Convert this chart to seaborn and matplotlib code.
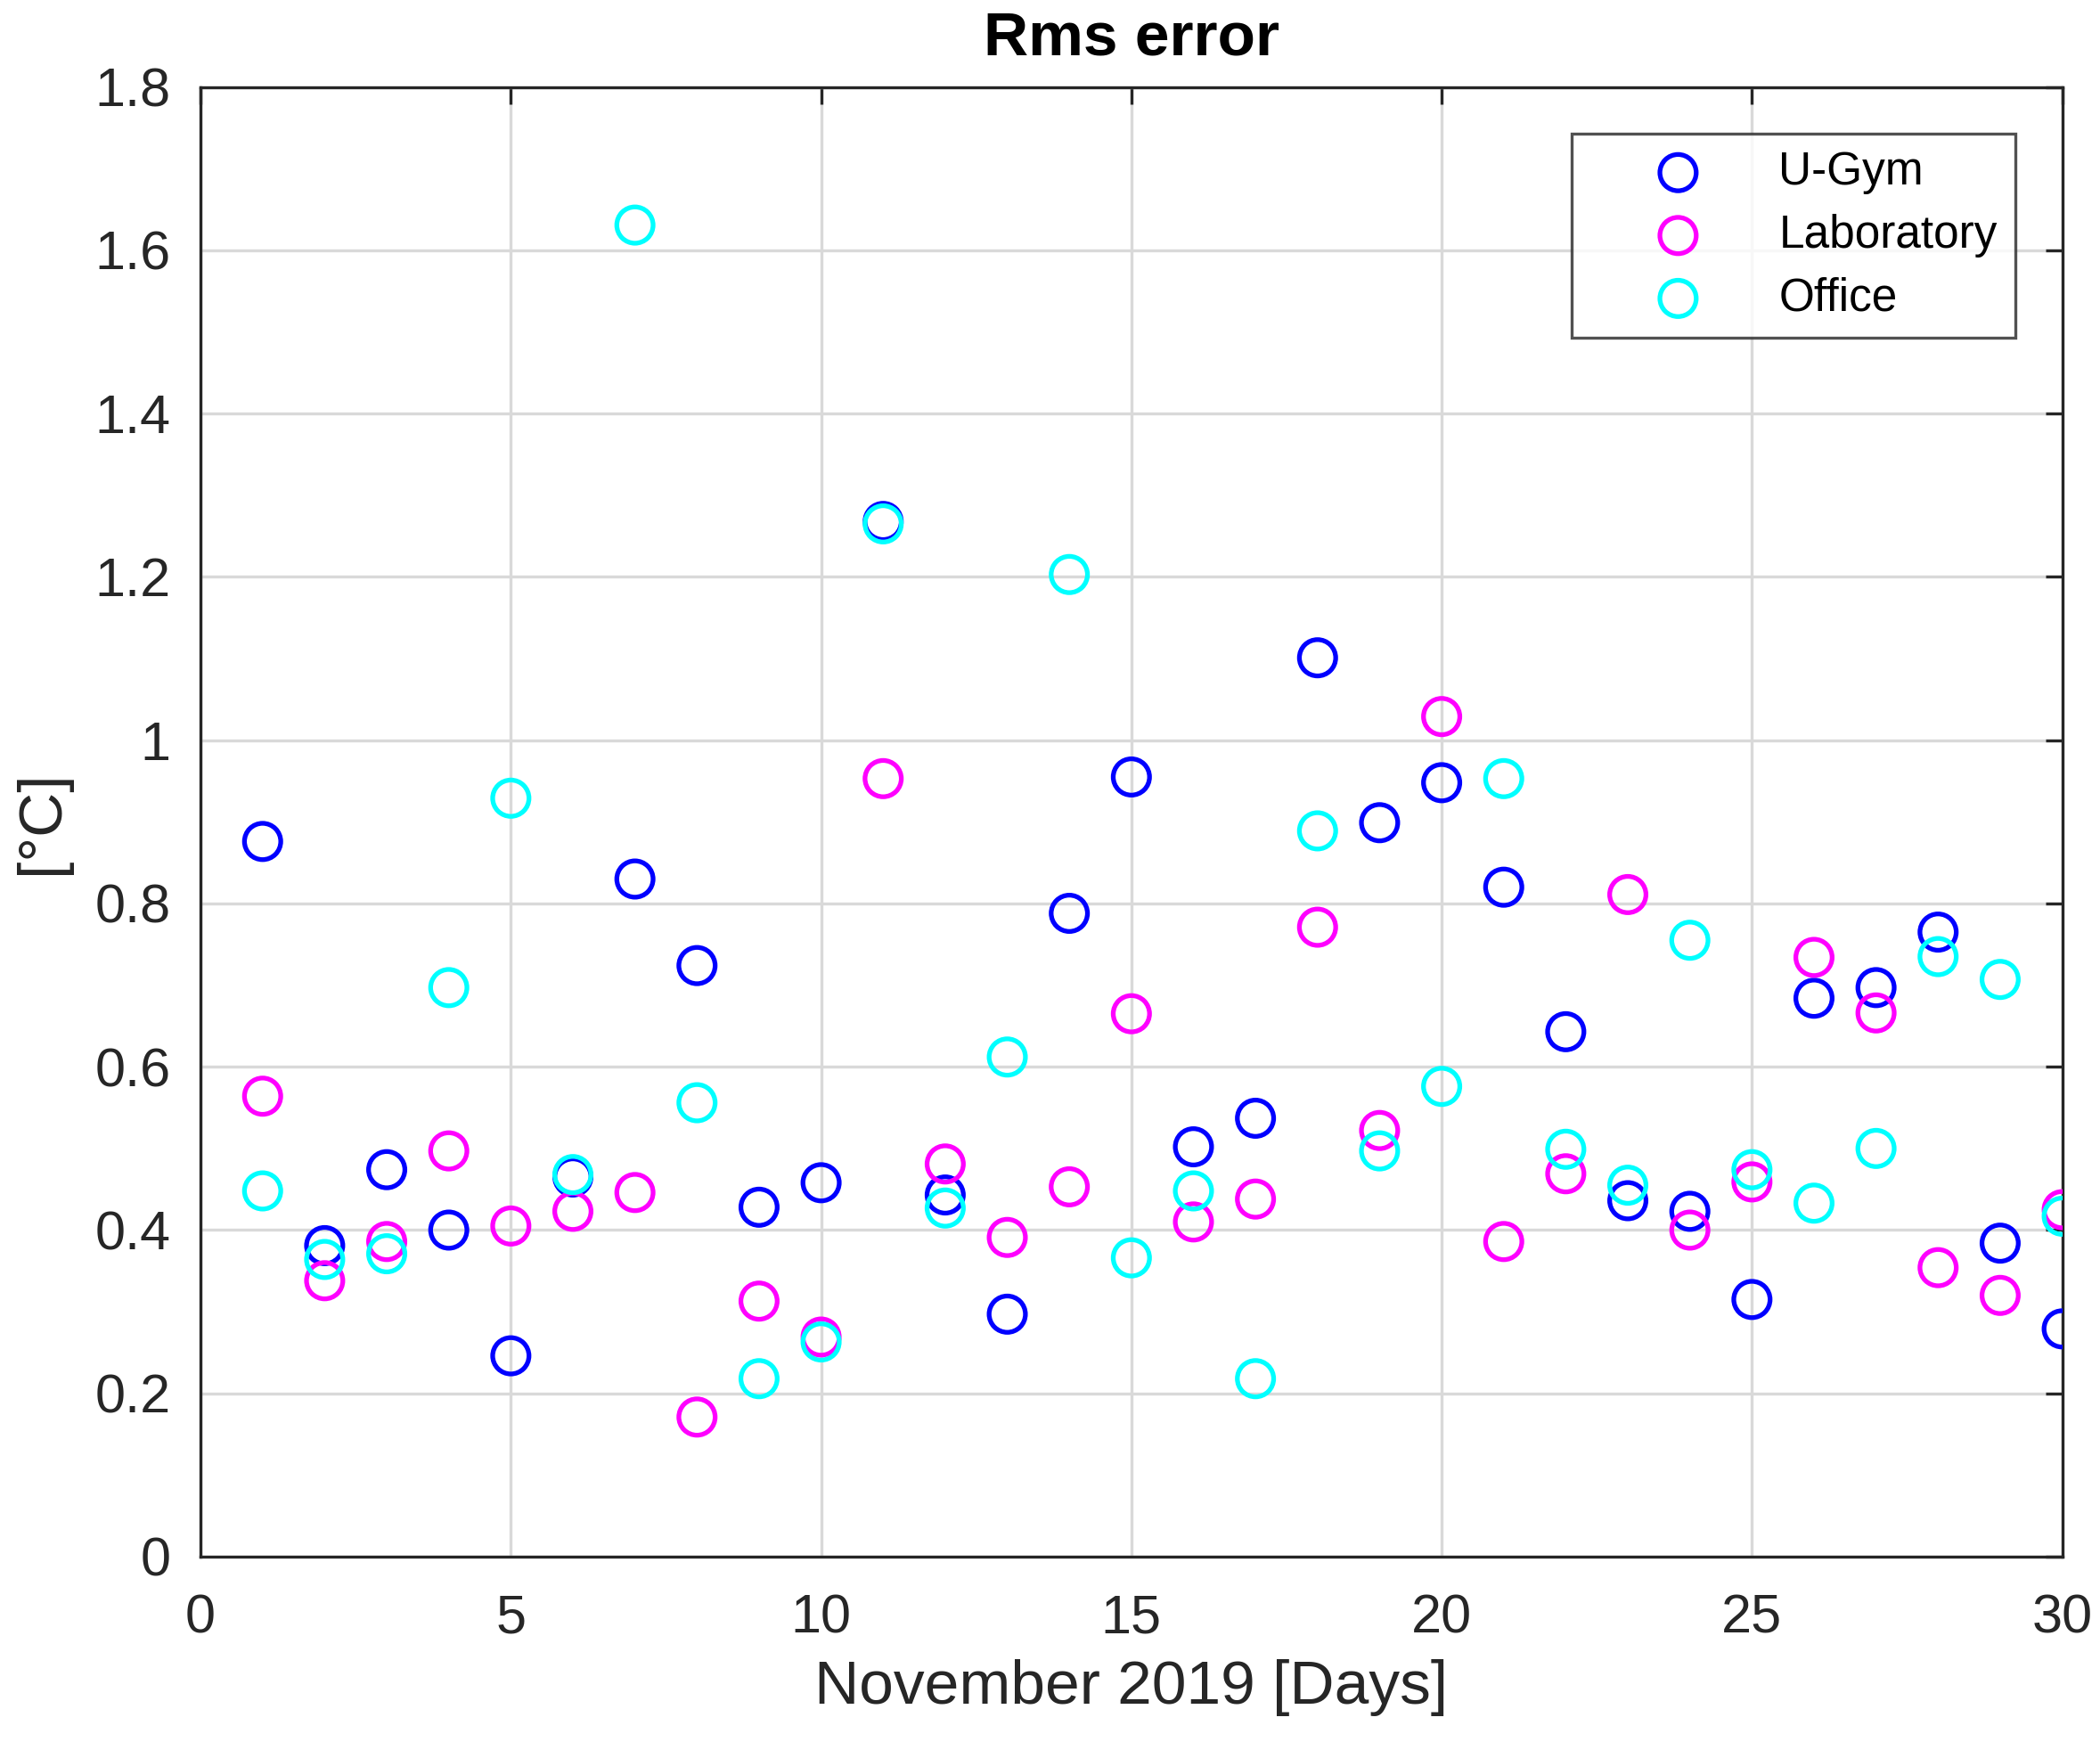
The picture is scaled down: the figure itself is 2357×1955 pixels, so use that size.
import matplotlib
matplotlib.use("Agg")
import matplotlib.pyplot as plt
import pandas as pd
import seaborn as sns

days = list(range(1, 31))

u_gym = [0.876, 0.381, 0.474, 0.400, 0.246, 0.465, 0.830, 0.724, 0.428, 0.458,
         1.268, 0.443, 0.297, 0.788, 0.955, 0.502, 0.537, 1.101, 0.899, 0.948,
         0.820, 0.643, 0.436, 0.423, 0.315, 0.684, 0.697, 0.765, 0.384, 0.279]
laboratory = [0.564, 0.338, 0.386, 0.497, 0.405, 0.423, 0.446, 0.171, 0.313, 0.269,
              0.953, 0.481, 0.391, 0.453, 0.665, 0.410, 0.438, 0.771, 0.522, 1.029,
              0.386, 0.469, 0.811, 0.400, 0.459, 0.734, 0.666, 0.354, 0.320, 0.425]
office = [0.448, 0.364, 0.371, 0.697, 0.929, 0.468, 1.631, 0.556, 0.218, 0.263,
          1.265, 0.427, 0.612, 1.203, 0.366, 0.448, 0.218, 0.889, 0.497, 0.576,
          0.953, 0.499, 0.455, 0.755, 0.474, 0.433, 0.500, 0.735, 0.707, 0.417]

series = {"U-Gym": u_gym, "Laboratory": laboratory, "Office": office}
colors = {"U-Gym": "#0000ff", "Laboratory": "#ff00ff", "Office": "#00ffff"}

sns.set_style("white")
plt.rcParams['font.family'] = ['Liberation Sans', 'DejaVu Sans']

fig = plt.figure(figsize=(23.57, 19.55), dpi=100)
ax = fig.add_axes([0.0955, 0.1064, 0.8865, 0.8436])

for name, vals in series.items():
    df = pd.DataFrame({"day": days, "rms": vals})
    sns.scatterplot(data=df, x="day", y="rms", ax=ax, marker="o", s=860,
                    facecolor="none", edgecolor=colors[name], linewidth=3.8,
                    label=name, zorder=3)

ax.set_xlim(0, 30)
ax.set_ylim(0, 1.8)
ax.set_xticks(range(0, 31, 5))
ax.set_yticks([0, 0.2, 0.4, 0.6, 0.8, 1.0, 1.2, 1.4, 1.6, 1.8])
ax.set_yticklabels(["0", "0.2", "0.4", "0.6", "0.8", "1", "1.2", "1.4", "1.6", "1.8"])
ax.grid(True, color="#d9d9d9", linewidth=2.4)
ax.set_axisbelow(True)
for s in ax.spines.values():
    s.set_color("#262626")
    s.set_linewidth(2.4)
ax.tick_params(direction="in", length=14, width=2.4, top=True, right=True,
               labelsize=44, colors="#262626")
ax.tick_params(axis="x", pad=30)
ax.tick_params(axis="y", pad=24)
for lab in ax.get_xticklabels() + ax.get_yticklabels():
    lab.set_color("#262626")

ax.set_title("Rms error", fontsize=50, fontweight="bold", pad=26, color="black")
ax.set_xlabel("November 2019 [Days]", fontsize=50, color="#262626", labelpad=12)
ax.set_ylabel("[°C]", fontsize=50, color="#262626", labelpad=20)

leg = ax.legend(loc="upper right", bbox_to_anchor=(0.9746, 0.9685), borderaxespad=0,
                fontsize=37, frameon=True, fancybox=False, handletextpad=0.25,
                handlelength=3.9, labelspacing=0.42, borderpad=0.38,
                edgecolor="#262626", labelcolor="black")
leg.get_frame().set_linewidth(2.4)

fig.savefig("out.png", dpi=100, facecolor="white")
